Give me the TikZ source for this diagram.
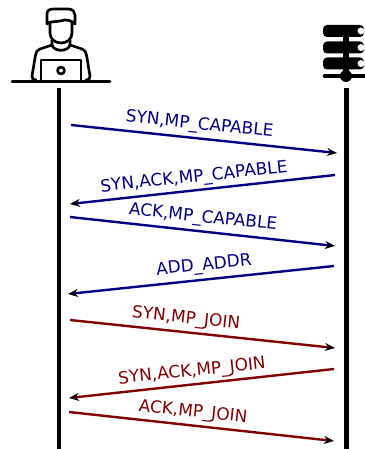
\documentclass[tikz,border=0pt]{standalone}
\usepackage{fontspec}
\setmainfont{DejaVu Sans}
\usetikzlibrary{arrows.meta, positioning, calc}
\definecolor{NavyMsg}{HTML}{000080}
\definecolor{MaroonMsg}{HTML}{800000}
\tikzset{
    lifeline/.style={line width=3.3pt, black},
    icon/.style={line width=2pt, black, line join=round, line cap=round},
    msgblue/.style={line width=1.8pt, NavyMsg, -{Stealth[length=7.5pt,width=6pt,black]}},
    msgred/.style={line width=1.8pt, MaroonMsg, -{Stealth[length=7.5pt,width=6pt,black]}},
    lblblue/.style={text=NavyMsg, font=\fontsize{12.7}{14}\selectfont, inner sep=0pt},
    lblred/.style={text=MaroonMsg, font=\fontsize{12.7}{14}\selectfont, inner sep=0pt}
}
\begin{document}
\begin{tikzpicture}[x=0.75pt, y=-0.75pt]
    \useasboundingbox (0,0) rectangle (364,449);

    % Client icon
    \draw[icon] (12,81.5) -- (110,81.5);
    \draw[icon] (47,24) -- (47,14) .. controls (47,10) and (50,9) .. (54,9)
        -- (68,9) .. controls (73,9) and (75,12) .. (75,15) -- (75,24)
        .. controls (71,20) and (66,19) .. (60,21) .. controls (55,22) and (50,21) .. (47,24) -- cycle;
    \draw[icon] (50,23) -- (50,33) .. controls (50,39) and (55,43) .. (61,43)
        .. controls (67,43) and (72,39) .. (72,33) -- (72,23);
    \draw[icon] (52,40) -- (52,45) .. controls (54,52) and (68,52) .. (70,45) -- (70,40);
    \draw[icon] (52,45) -- (40,49) .. controls (37,50) and (36,52) .. (35.5,55)
        -- (32,76) .. controls (32,79) and (33,80) .. (36,80);
    \draw[icon] (70,45) -- (82,49) .. controls (85,50) and (86,52) .. (86.5,55)
        -- (90,76) .. controls (90,79) and (89,80) .. (86,80);
    \draw[icon] (41,80) -- (41,60) -- (81,60) -- (81,80);
    \draw[icon] (61,70.5) circle (2.6pt);

    % Server icon
    \foreach \ypos in {31,47.5,63.5} {
        \fill[black, rounded corners=3pt] (323,\ypos-6) rectangle (364,\ypos+6);
        \fill[white] (361,\ypos) circle (2.6pt);
    }
    \draw[line width=4pt, black] (346,25) -- (346,76);
    \draw[line width=3.5pt, black, line cap=round] (325,76) -- (364,76);
    \fill[black] (346,76) circle (4.5pt);

    % Lifelines
    \coordinate (clienttop) at (59,88);
    \coordinate (clientend) at (59,449);
    \coordinate (servertop) at (346.5,88);
    \coordinate (serverend) at (346.5,449);
    \draw[lifeline] (clienttop) -- (clientend);
    \draw[lifeline] (servertop) -- (serverend);

    % Blue messages
    \coordinate (capA) at (71,125);   \coordinate (capB) at (337,153);
    \coordinate (capC) at (335,175);  \coordinate (capD) at (70,204);
    \coordinate (capE) at (70,217);   \coordinate (capF) at (335,246);
    \coordinate (addA) at (334,266);  \coordinate (addB) at (68,294);
    \draw[msgblue] (capA) -- (capB);
    \draw[msgblue] (capC) -- (capD);
    \draw[msgblue] (capE) -- (capF);
    \draw[msgblue] (addA) -- (addB);
    \node[lblblue, rotate=-6] (syncap) at (199.5,125) {SYN,MP\_CAPABLE};
    \node[lblblue, rotate=6] (ackcap) at (194,178) {SYN,ACK,MP\_CAPABLE};
    \node[lblblue, rotate=-6] (finalcap) at (203,218) {ACK,MP\_CAPABLE};
    \node[lblblue, rotate=6] (addaddr) at (204,266) {ADD\_ADDR};

    % Red messages
    \coordinate (joinA) at (70,320);   \coordinate (joinB) at (335,348);
    \coordinate (joinC) at (334,369);  \coordinate (joinD) at (69,398);
    \coordinate (joinE) at (69,412);   \coordinate (joinF) at (334,441);
    \draw[msgred] (joinA) -- (joinB);
    \draw[msgred] (joinC) -- (joinD);
    \draw[msgred] (joinE) -- (joinF);
    \node[lblred, rotate=-6] (synjoin) at (186,319) {SYN,MP\_JOIN};
    \node[lblred, rotate=6] (ackjoin) at (192,372) {SYN,ACK,MP\_JOIN};
    \node[lblred, rotate=-6] (finaljoin) at (193,412.5) {ACK,MP\_JOIN};
\end{tikzpicture}
\end{document}
